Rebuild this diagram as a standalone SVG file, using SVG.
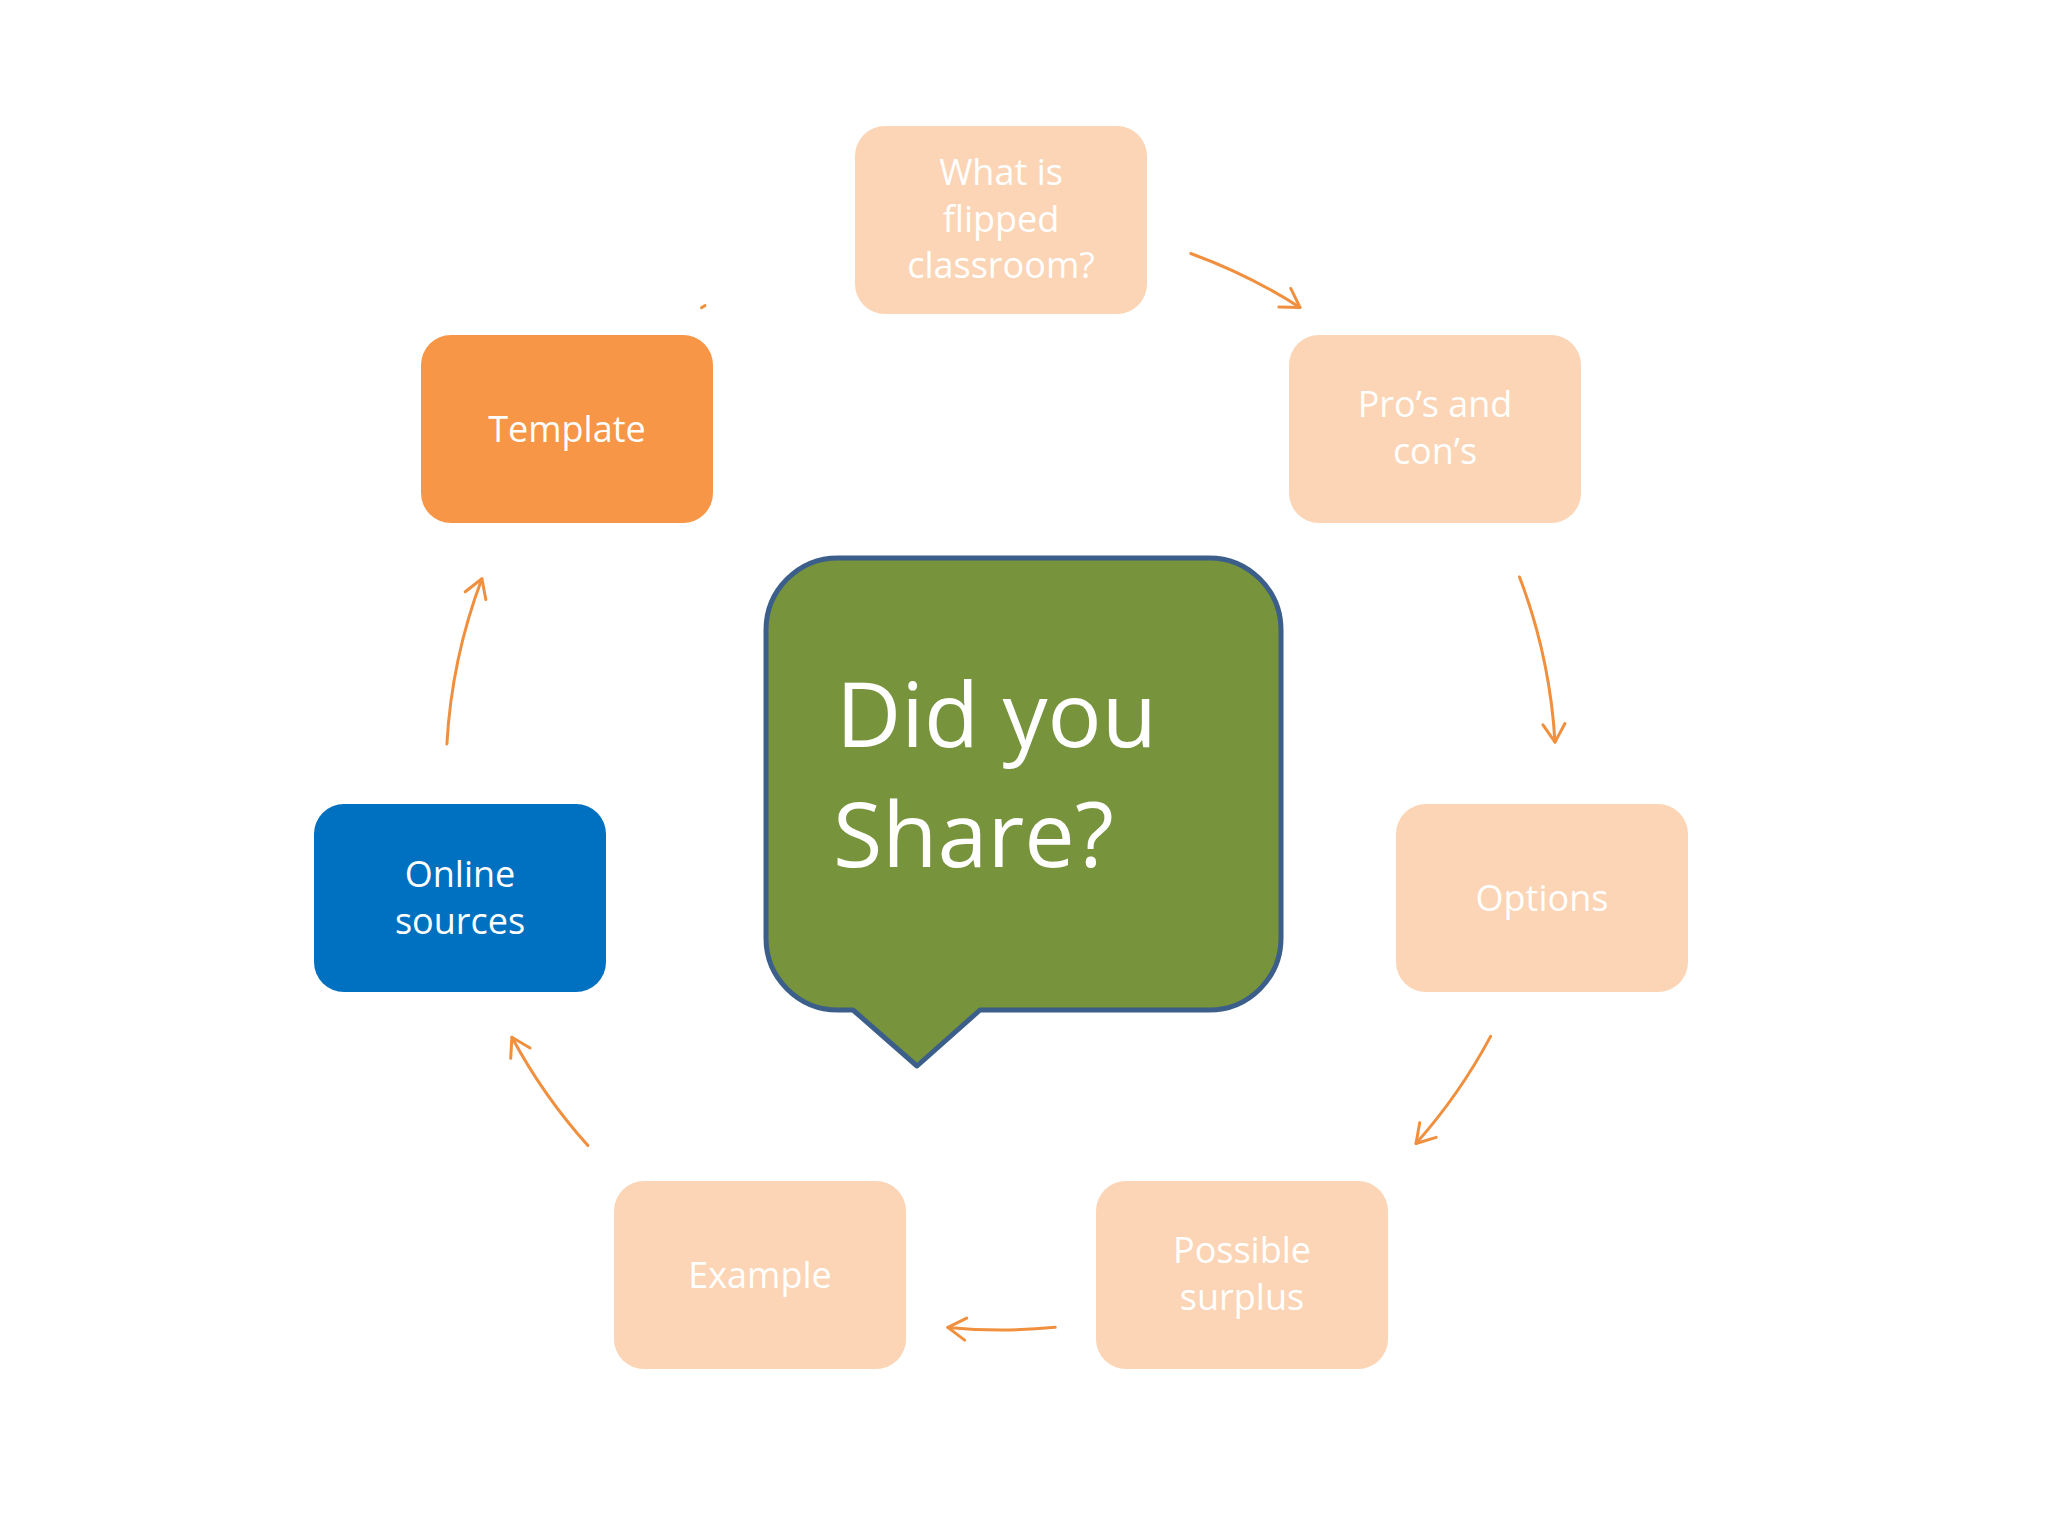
<svg xmlns="http://www.w3.org/2000/svg" width="2048" height="1536" viewBox="0 0 2048 1536">
  <defs>
    <style>
      .box { stroke: none; }
      .light { fill: #FBD5B5; }
      .lbl { font-family: "Open Sans", "Noto Sans", sans-serif; font-size: 36px; fill: #FFFFFF; text-anchor: middle; }
      .big { font-family: "Open Sans", "Noto Sans", sans-serif; font-size: 90px; fill: #FFFFFF; }
      .arc { fill: none; stroke: #F0903F; stroke-width: 3; stroke-linecap: round; }
    </style>
    <marker id="ah" viewBox="-24 -15 30 30" refX="0" refY="0" markerWidth="30" markerHeight="30" markerUnits="userSpaceOnUse" orient="auto">
      <path d="M -18 -11 L 0 0 L -18 11" fill="none" stroke="#F0903F" stroke-width="3" stroke-linecap="round" stroke-linejoin="round"/>
    </marker>
  </defs>
  <rect x="0" y="0" width="2048" height="1536" fill="#FFFFFF"/>

  <g id="connectors">
    <path class="arc" d="M 1190.8 253.5 A 555 555 0 0 1 1300.0 307.4" marker-end="url(#ah)"/>
    <path class="arc" d="M 1519.5 577.0 A 555 555 0 0 1 1555.0 742.1" marker-end="url(#ah)"/>
    <path class="arc" d="M 1490.6 1036.4 A 555 555 0 0 1 1416.0 1143.5" marker-end="url(#ah)"/>
    <path class="arc" d="M 1055.2 1327.3 A 555 555 0 0 1 947.8 1327.4" marker-end="url(#ah)"/>
    <path class="arc" d="M 587.9 1145.6 A 555 555 0 0 1 511.9 1037.3" marker-end="url(#ah)"/>
    <path class="arc" d="M 446.9 744.0 A 555 555 0 0 1 481.9 578.8" marker-end="url(#ah)"/>
    <path class="arc" d="M 701.5 307.8 A 555 555 0 0 1 705.0 305.6"/>
  </g>

  <g id="node-what">
    <rect class="box light" x="855" y="126" width="292" height="188" rx="30" ry="30"/>
    <text class="lbl" x="1001" y="185">What is</text>
    <text class="lbl" x="1001" y="232">flipped</text>
    <text class="lbl" x="1001" y="278">classroom?</text>
  </g>

  <g id="node-pros">
    <rect class="box light" x="1289" y="335" width="292" height="188" rx="30" ry="30"/>
    <text class="lbl" x="1435" y="417">Pro’s and</text>
    <text class="lbl" x="1435" y="464">con’s</text>
  </g>

  <g id="node-options">
    <rect class="box light" x="1396" y="804" width="292" height="188" rx="30" ry="30"/>
    <text class="lbl" x="1542" y="911">Options</text>
  </g>

  <g id="node-surplus">
    <rect class="box light" x="1096" y="1181" width="292" height="188" rx="30" ry="30"/>
    <text class="lbl" x="1242" y="1263">Possible</text>
    <text class="lbl" x="1242" y="1310">surplus</text>
  </g>

  <g id="node-example">
    <rect class="box light" x="614" y="1181" width="292" height="188" rx="30" ry="30"/>
    <text class="lbl" x="760" y="1288">Example</text>
  </g>

  <g id="node-online">
    <rect class="box" x="314" y="804" width="292" height="188" rx="30" ry="30" fill="#0070C0"/>
    <text class="lbl" x="460" y="887">Online</text>
    <text class="lbl" x="460" y="934">sources</text>
  </g>

  <g id="node-template">
    <rect class="box" x="421" y="335" width="292" height="188" rx="30" ry="30" fill="#F79646"/>
    <text class="lbl" x="567" y="442">Template</text>
  </g>

  <g id="node-share">
    <path d="M 838 558 L 1209 558 A 72 72 0 0 1 1281 630 L 1281 938 A 72 72 0 0 1 1209 1010 L 980 1010 L 917 1066 L 853 1010 L 838 1010 A 72 72 0 0 1 766 938 L 766 630 A 72 72 0 0 1 838 558 Z" fill="#77933C" stroke="#3B5F8A" stroke-width="5" stroke-linejoin="round"/>
    <text class="big" x="836" y="747">Did you</text>
    <text class="big" x="833" y="867">Share?</text>
  </g>
</svg>
